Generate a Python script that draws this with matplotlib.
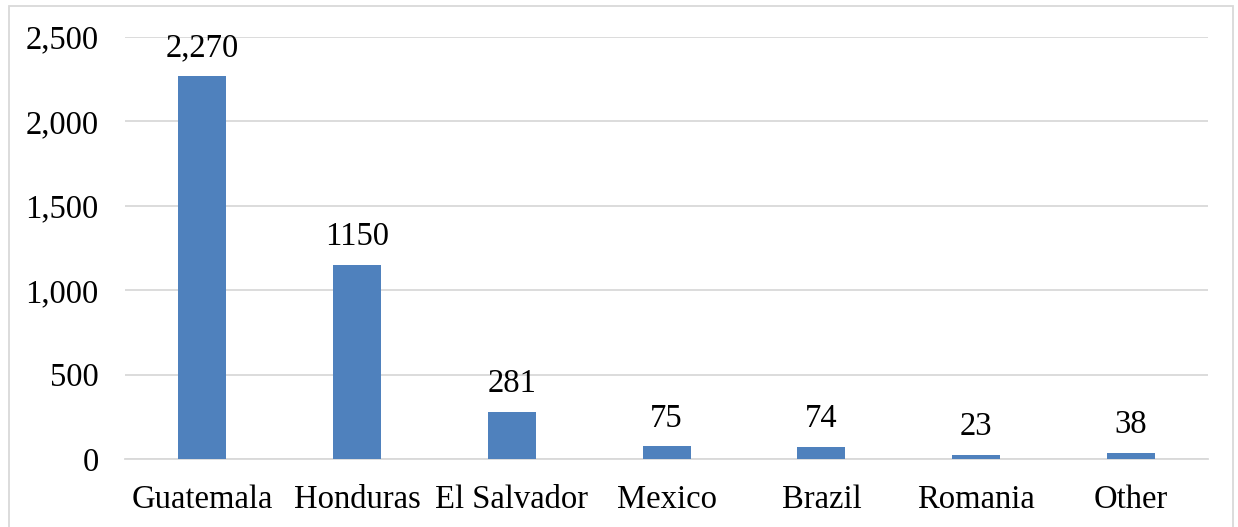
import matplotlib
matplotlib.use("Agg")
import matplotlib.pyplot as plt
from matplotlib.patches import Rectangle
from matplotlib.ticker import FuncFormatter

countries = ["Guatemala", "Honduras", "El Salvador", "Mexico", "Brazil", "Romania", "Other"]
counts = [2270, 1150, 281, 75, 74, 23, 38]
labels = ["2,270", "1150", "281", "75", "74", "23", "38"]
yticks = [0, 500, 1000, 1500, 2000, 2500]

plt.rcParams['font.family'] = ['Liberation Serif', 'DejaVu Serif']
FS = 23.5

fig = plt.figure(figsize=(12.38, 5.27), dpi=100)
ax = fig.add_axes([0.101, 0.129, 0.875, 0.801])

x = range(len(countries))
bars = ax.bar(x, counts, width=0.31, color='#4F81BD', zorder=3)
for b, lab in zip(bars, labels):
    ax.text(b.get_x() + b.get_width() / 2, b.get_height() + 75, lab,
            ha='center', va='bottom', fontsize=FS)

ax.set_xlim(-0.5, len(countries) - 0.5)
ax.set_ylim(0, 2500)
ax.set_yticks(yticks)
ax.yaxis.set_major_formatter(FuncFormatter(lambda v, p: f"{int(v):,}"))
ax.set_xticks(list(x))
ax.set_xticklabels(countries)
ax.tick_params(axis='both', length=0, labelsize=FS)
ax.tick_params(axis='y', pad=19)
ax.tick_params(axis='x', pad=18)
ax.grid(axis='y', color='#D9D9D9', linewidth=1.3, zorder=0)
for s in ['top', 'right', 'left']:
    ax.spines[s].set_visible(False)
ax.spines['bottom'].set_color('#D9D9D9')
ax.spines['bottom'].set_linewidth(1.3)

# outer chart border
fig.patches.append(Rectangle((0.007, -0.01), 0.989, 0.998, transform=fig.transFigure,
                             fill=False, edgecolor='#D9D9D9', linewidth=1.3))

fig.savefig("out.png", dpi=100)
